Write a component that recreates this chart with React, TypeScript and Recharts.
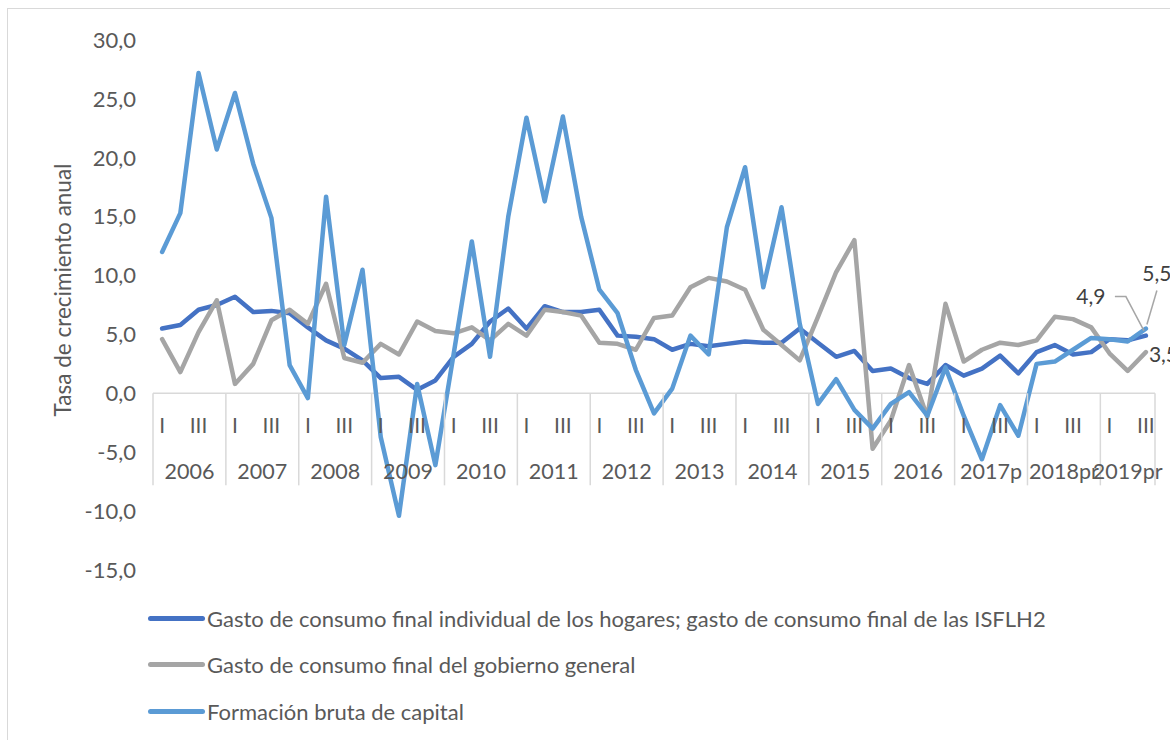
import React from 'react'
import { LineChart, Line, XAxis, YAxis, ReferenceLine, LabelList } from 'recharts'

// categorías: años y trimestres
const years = ['2006', '2007', '2008', '2009', '2010', '2011', '2012', '2013', '2014', '2015', '2016', '2017p', '2018pr', '2019pr']
const quarterNames = ['I', 'II', 'III', 'IV']
const quartersPerYear = [4, 4, 4, 4, 4, 4, 4, 4, 4, 4, 4, 4, 4, 3]

// Gasto de consumo final individual de los hogares; ISFLH
const hogares = [
  5.5, 5.8, 7.1, 7.5, 8.2, 6.9, 7.0, 6.8, 5.6, 4.5, 3.8, 2.8,
  1.3, 1.4, 0.3, 1.1, 3.1, 4.2, 6.1, 7.2, 5.5, 7.4, 6.9, 6.9,
  7.1, 4.9, 4.8, 4.6, 3.7, 4.2, 4.0, 4.2, 4.4, 4.3, 4.3, 5.5,
  4.3, 3.1, 3.6, 1.9, 2.1, 1.3, 0.8, 2.4, 1.5, 2.1, 3.2, 1.7,
  3.5, 4.1, 3.3, 3.5, 4.6, 4.5, 4.9,
]

// Gasto de consumo final del gobierno general
const gobierno = [
  4.6, 1.8, 5.2, 7.9, 0.8, 2.5, 6.2, 7.1, 5.9, 9.3, 3.0, 2.6,
  4.2, 3.3, 6.1, 5.3, 5.1, 5.6, 4.5, 5.9, 4.9, 7.1, 6.9, 6.6,
  4.3, 4.2, 3.7, 6.4, 6.6, 9.0, 9.8, 9.5, 8.8, 5.4, 4.1, 2.8,
  6.5, 10.3, 13.0, -4.7, -2.3, 2.4, -2.0, 7.6, 2.7, 3.7, 4.3, 4.1,
  4.5, 6.5, 6.3, 5.6, 3.4, 1.9, 3.5,
]

// Formación bruta de capital
const capital = [
  12.0, 15.3, 27.2, 20.7, 25.5, 19.5, 14.9, 2.4, -0.4, 16.7, 4.1, 10.5,
  -3.7, -10.4, 0.8, -6.1, 3.3, 12.9, 3.1, 15.0, 23.4, 16.3, 23.5, 15.0,
  8.8, 6.8, 2.0, -1.7, 0.4, 4.9, 3.3, 14.1, 19.2, 9.0, 15.8, 5.9,
  -0.9, 1.2, -1.4, -3.0, -0.9, 0.1, -1.9, 2.2, -1.9, -5.6, -1.0, -3.6,
  2.5, 2.7, 3.7, 4.7, 4.6, 4.4, 5.5,
]

const yTicks = [-15, -10, -5, 0, 5, 10, 15, 20, 25, 30]

const seriesNames = {
  hogares: 'Gasto de consumo final individual de los hogares; gasto de consumo final de las ISFLH2',
  gobierno: 'Gasto de consumo final del gobierno general',
  capital: 'Formación bruta de capital',
}

const COLORS = { hogares: '#4472C4', gobierno: '#A5A5A5', capital: '#5B9BD5' }
const FONT = 'Lato, "Liberation Sans", Arial, sans-serif'
const TEXT = '#595959'

// tabla para recharts
const rows: any[] = []
years.forEach((year, yi) => {
  for (let qi = 0; qi < quartersPerYear[yi]; qi++) {
    const i = rows.length
    rows.push({
      key: `${year}-${quarterNames[qi]}`,
      year,
      quarter: quarterNames[qi],
      qi,
      nq: quartersPerYear[yi],
      hogares: hogares[i],
      gobierno: gobierno[i],
      capital: capital[i],
    })
  }
})

const W = 1170
const H = 740
const MARGIN = { top: 40, right: 15, bottom: 140, left: 73 }
const Y_AXIS_W = 80
const X_AXIS_H = 30
const Y_MIN = -15
const Y_MAX = 30
const PLOT_H = H - MARGIN.top - MARGIN.bottom - X_AXIS_H
const PLOT_W = W - MARGIN.left - Y_AXIS_W - MARGIN.right
const SLOT = PLOT_W / rows.length
const ZERO_Y = MARGIN.top + (PLOT_H * Y_MAX) / (Y_MAX - Y_MIN)

const fmt = (v: number) => v.toFixed(1).replace('.', ',')

// eje de categorías de dos niveles, dibujado sobre la línea del cero
function CategoryTick(props: any) {
  const { x } = props
  const index = props.payload?.index ?? props.index
  const row = rows[index]
  if (!row) return null
  const left = x - SLOT / 2
  return (
    <g>
      {(row.qi === 0 || row.qi === 2) && (
        <text x={x} y={ZERO_Y + 31} textAnchor="middle" dominantBaseline="central" fontSize={21} fill={TEXT} fontFamily={FONT}>
          {row.quarter}
        </text>
      )}
      {row.qi === 0 && (
        <>
          <line x1={left} x2={left} y1={ZERO_Y} y2={ZERO_Y + 92} stroke="#d9d9d9" strokeWidth={1.5} />
          <text x={left + (row.nq * SLOT) / 2} y={ZERO_Y + 78} textAnchor="middle" dominantBaseline="central" fontSize={21.5} fill={TEXT} fontFamily={FONT}>
            {row.year}
          </text>
        </>
      )}
      {index === rows.length - 1 && (
        <line x1={x + SLOT / 2} x2={x + SLOT / 2} y1={ZERO_Y} y2={ZERO_Y + 92} stroke="#d9d9d9" strokeWidth={1.5} />
      )}
    </g>
  )
}

function AxisTitle(props: any) {
  const vb = props.viewBox || {}
  const cx = vb.x - 11
  const cy = vb.y + vb.height / 2 - 15
  return (
    <text x={cx} y={cy} transform={`rotate(-90 ${cx} ${cy})`} textAnchor="middle" dominantBaseline="central" fontSize={22.5} fill={TEXT} fontFamily={FONT}>
      Tasa de crecimiento anual
    </text>
  )
}

// etiquetas del último trimestre, con líneas guía
const endLabels: Record<string, { dx: number; dy: number; anchor: string; leader: number[][] | null }> = {
  hogares: { dx: -55, dy: -40, anchor: 'middle', leader: [[-31, -39], [-20, -39], [-2, -5]] },
  capital: { dx: 11, dy: -56, anchor: 'middle', leader: [[11, -38], [1, -4]] },
  gobierno: { dx: 3, dy: 1, anchor: 'start', leader: null },
}

const endLabel = (name: string) => (props: any) => {
  const { x, y, value, index } = props
  if (index !== rows.length - 1) return null
  const cfg = endLabels[name]
  return (
    <g>
      {cfg.leader && (
        <polyline
          points={cfg.leader.map(([a, b]) => `${x + a},${y + b}`).join(' ')}
          fill="none"
          stroke="#a6a6a6"
          strokeWidth={1.5}
        />
      )}
      <text x={x + cfg.dx} y={y + cfg.dy} textAnchor={cfg.anchor as any} dominantBaseline="central" fontSize={21} fill="#404040" fontFamily={FONT}>
        {fmt(value)}
      </text>
    </g>
  )
}

const legendOrder = ['hogares', 'gobierno', 'capital'] as const

export default function App() {
  return (
    <div style={{ position: 'relative', width: W, height: H, overflow: 'hidden', background: '#fff', fontFamily: FONT }}>
      <style>{'body{margin:0;overflow:hidden}'}</style>
      <div style={{ position: 'absolute', left: 7, top: 8, width: 1300, height: 900, border: '1px solid #d9d9d9', pointerEvents: 'none' }} />

      <LineChart width={W} height={H} data={rows} margin={MARGIN} style={{ position: 'absolute', left: 0, top: 0 }}>
        <XAxis
          dataKey="key"
          height={X_AXIS_H}
          interval={0}
          axisLine={false}
          tickLine={false}
          padding={{ left: SLOT / 2, right: SLOT / 2 }}
          tick={<CategoryTick />}
        />
        <YAxis
          width={Y_AXIS_W}
          domain={[Y_MIN, Y_MAX]}
          ticks={yTicks}
          axisLine={false}
          tickLine={false}
          tickSize={0}
          tickMargin={17}
          tickFormatter={fmt}
          tick={{ fontSize: 22, fill: TEXT, fontFamily: FONT }}
          label={<AxisTitle />}
        />
        <ReferenceLine y={0} stroke="#d9d9d9" strokeWidth={1.5} />
        {legendOrder.map((name) => (
          <Line
            key={name}
            type="linear"
            dataKey={name}
            stroke={COLORS[name]}
            strokeWidth={4.5}
            strokeLinejoin="round"
            strokeLinecap="round"
            dot={false}
            activeDot={false}
            isAnimationActive={false}
          >
            <LabelList dataKey={name} content={endLabel(name)} />
          </Line>
        ))}
      </LineChart>

      {legendOrder.map((name, i) => (
        <div
          key={name}
          style={{ position: 'absolute', left: 148, top: 600 + i * 46.5, height: 36, display: 'flex', alignItems: 'center', whiteSpace: 'nowrap' }}
        >
          <span style={{ display: 'inline-block', width: 57, height: 5, borderRadius: 3, background: COLORS[name], marginRight: 2 }} />
          <span style={{ fontSize: 22, color: TEXT }}>{seriesNames[name]}</span>
        </div>
      ))}
    </div>
  )
}
